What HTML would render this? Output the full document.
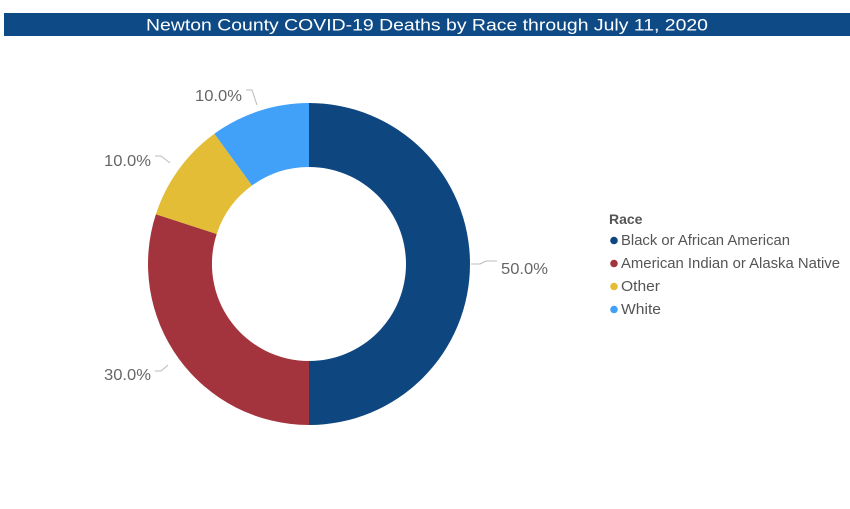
<!DOCTYPE html>
<html><head><style>
body{margin:0;background:#fff;width:850px;height:504px;overflow:hidden;font-family:"Liberation Sans",sans-serif;}
</style></head><body>
<svg width="850" height="504" xmlns="http://www.w3.org/2000/svg">
<rect x="4" y="13" width="846" height="23" fill="#0e4a86"/>
<text x="427" y="30.5" text-anchor="middle" fill="#fff" font-family="Liberation Sans Narrow, Liberation Sans, sans-serif" font-stretch="condensed" font-size="17" textLength="562" lengthAdjust="spacingAndGlyphs">Newton County COVID-19 Deaths by Race through July 11, 2020</text>
<g>
<path d="M309 103 A161 161 0 0 1 309 425 L309 361 A97 97 0 0 0 309 167 Z" fill="#0e467f"/>
<path d="M309 425 A161 161 0 0 1 155.9 214.2 L216.7 234 A97 97 0 0 0 309 361 Z" fill="#a3343d"/>
<path d="M155.9 214.2 A161 161 0 0 1 214.4 133.7 L252 185.5 A97 97 0 0 0 216.7 234 Z" fill="#e2bd35"/>
<path d="M214.4 133.7 A161 161 0 0 1 309 103 L309 167 A97 97 0 0 0 252 185.5 Z" fill="#41a1f9"/>
</g>
<g fill="none" stroke="#bbb" stroke-width="1">
<path d="M471 264 L480 264 L486 261 L497 261"/>
<path d="M155 371 L161 371 L168 365"/>
<path d="M155 156 L161 156 L170 163"/>
<path d="M246 90 L252 90 L257 105"/>
</g>
<g fill="#666" font-size="16">
<text x="501" y="274" textLength="47" lengthAdjust="spacingAndGlyphs">50.0%</text>
<text x="104" y="380" textLength="47" lengthAdjust="spacingAndGlyphs">30.0%</text>
<text x="104" y="166" textLength="47" lengthAdjust="spacingAndGlyphs">10.0%</text>
<text x="195" y="101" textLength="47" lengthAdjust="spacingAndGlyphs">10.0%</text>
</g>
<text x="609" y="224" font-size="14" font-weight="bold" fill="#555">Race</text>
<g font-size="14.5" fill="#555">
<circle cx="614" cy="240.5" r="3.8" fill="#0e467f"/><text x="621" y="245" textLength="169" lengthAdjust="spacingAndGlyphs">Black or African American</text>
<circle cx="614" cy="263.5" r="3.8" fill="#a3343d"/><text x="621" y="268" textLength="219" lengthAdjust="spacingAndGlyphs">American Indian or Alaska Native</text>
<circle cx="614" cy="286.5" r="3.8" fill="#e2bd35"/><text x="621" y="291" textLength="39" lengthAdjust="spacingAndGlyphs">Other</text>
<circle cx="614" cy="309.5" r="3.8" fill="#41a1f9"/><text x="621" y="314" textLength="40" lengthAdjust="spacingAndGlyphs">White</text>
</g>
</svg>
</body></html>
